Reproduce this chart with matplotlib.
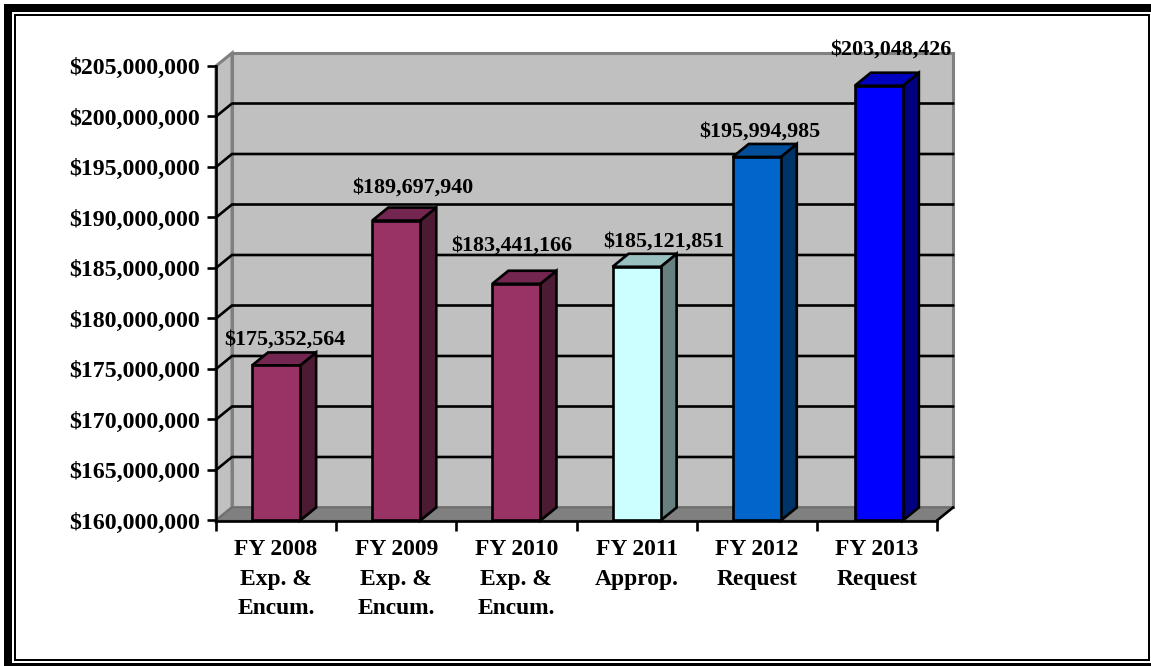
import matplotlib
matplotlib.use('Agg')
import matplotlib.pyplot as plt
from matplotlib.patches import Polygon, Rectangle

categories = ['FY 2008\nExp. &\nEncum.', 'FY 2009\nExp. &\nEncum.', 'FY 2010\nExp. &\nEncum.',
              'FY 2011\nApprop.', 'FY 2012\nRequest', 'FY 2013\nRequest']
values = [175352564, 189697940, 183441166, 185121851, 195994985, 203048426]
y_ticks = list(range(160000000, 205000001, 5000000))

front_colors = ['#993366', '#993366', '#993366', '#ccffff', '#0066cc', '#0000ff']
top_colors = ['#732650', '#732650', '#732650', '#99bfbf', '#004d99', '#0000bf']
side_colors = ['#4d1a33', '#4d1a33', '#4d1a33', '#668080', '#003366', '#000080']
# label nudges in pixels, the source chart had them dragged by hand
label_dx = [1, 9, -13, 19, -5, 6]
label_dy = [13, 20, 25, 12, 12, 23]
bar_shift = [0, 0, 0, 0, 0, 0.016]

W, H = 1151, 666
plt.rcParams['font.family'] = ['Liberation Serif', 'DejaVu Serif']
plt.rcParams['font.weight'] = 'bold'

fig = plt.figure(figsize=(W / 100, H / 100), dpi=100)


def frame_box(x0, y0, x1, y1, color):
    # box given in image pixels, y going down
    fig.add_artist(Rectangle((x0 / W, 1 - y1 / H), (x1 - x0) / W, (y1 - y0) / H, fc=color, ec='none',
                             transform=fig.transFigure, zorder=-1))


# double frame around the slide
frame_box(4, 4, 1151, 666, 'black')
frame_box(12, 12, 1151, 663, 'white')
frame_box(14, 14, 1150, 661, 'black')
frame_box(16, 16, 1148, 659, 'white')

left, right, top, bottom = 216, 937, 66, 520.5
ax = fig.add_axes([left / W, 1 - bottom / H, (right - left) / W, (bottom - top) / H])
ax.set_xlim(0, 6)
ax.set_ylim(160000000, 205000000)
ax.patch.set_visible(False)

# 3d depth as data units
dx = 16 / (right - left) * 6
dy = 13 / (bottom - top) * 45000000
y0, y1 = 160000000, 205000000
line_w = 1.9

ax.add_patch(Polygon([(dx, y0 + dy), (6 + dx, y0 + dy), (6 + dx, y1 + dy), (dx, y1 + dy)], fc='#c0c0c0',
                     ec='#808080', lw=2.2, clip_on=False, zorder=1))
ax.add_patch(Polygon([(0, y0), (dx, y0 + dy), (dx, y1 + dy), (0, y1)], fc='#c0c0c0',
                     ec='#808080', lw=2.2, clip_on=False, zorder=1))
ax.add_patch(Polygon([(0, y0), (6, y0), (6 + dx, y0 + dy), (dx, y0 + dy)], fc='#808080',
                     ec='#6e6e6e', lw=1.2, clip_on=False, zorder=1.5))
ax.plot([6, 6 + dx], [y0, y0 + dy], color='black', lw=line_w, clip_on=False, zorder=2)

for t in y_ticks[1:-1]:
    ax.plot([0, dx, 6 + dx], [t, t + dy, t + dy], color='black', lw=line_w, clip_on=False, zorder=2,
            solid_joinstyle='miter')

bar_w = 0.4
for i, v in enumerate(values):
    c = i + 0.5 + bar_shift[i]
    x = c - bar_w / 2
    ax.add_patch(Polygon([(x + bar_w, y0), (x + bar_w + dx, y0 + dy), (x + bar_w + dx, v + dy), (x + bar_w, v)],
                         fc=side_colors[i], ec='black', lw=line_w, clip_on=False, zorder=3))
    ax.add_patch(Polygon([(x, v), (x + bar_w, v), (x + bar_w + dx, v + dy), (x + dx, v + dy)],
                         fc=top_colors[i], ec='black', lw=line_w, clip_on=False, zorder=3))
    ax.bar(c, v - y0, bottom=y0, width=bar_w, color=front_colors[i], edgecolor='black', lw=line_w,
           clip_on=False, zorder=4)
    ax.annotate('${:,}'.format(v), xy=(i + 0.5 + dx / 2, v + dy),
                xytext=(label_dx[i] * 0.72, label_dy[i] * 0.72), textcoords='offset points',
                ha='center', va='center', annotation_clip=False, zorder=6, fontsize=15.8)

for s in ['top', 'right']:
    ax.spines[s].set_visible(False)
for s in ['left', 'bottom']:
    ax.spines[s].set_linewidth(line_w)
    ax.spines[s].set_zorder(5)

ax.set_yticks(y_ticks)
ax.set_yticklabels(['${:,}'.format(t) for t in y_ticks], fontsize=17.2)
ax.tick_params(axis='y', length=6.5, width=line_w, pad=5)
ax.set_xticks(range(7))
ax.set_xticklabels([])
ax.tick_params(axis='x', which='major', length=7, width=line_w)
ax.set_xticks([i + 0.5 for i in range(6)], minor=True)
ax.set_xticklabels(categories, minor=True, linespacing=1.52, fontsize=16.9)
ax.tick_params(axis='x', which='minor', length=0, pad=13.5)

fig.savefig('out.png', dpi=100)
